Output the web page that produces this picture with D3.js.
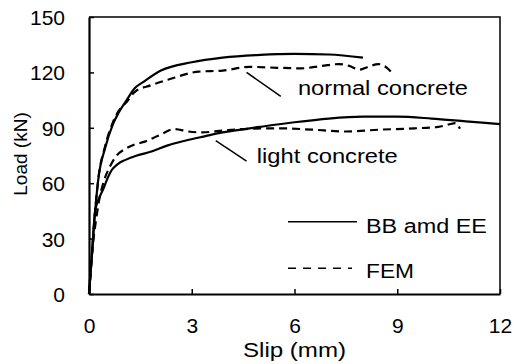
<!DOCTYPE html>
<html>
<head>
<meta charset="utf-8">
<script src="https://cdn.jsdelivr.net/npm/d3@7"></script>
<style>
  body { margin: 0; background: #fff; }
  text { font-family: "Liberation Sans", Arial, sans-serif; fill: #000; }
</style>
</head>
<body>
<div id="chart"></div>
<script>
// slip (mm) / load (kN)
const normalBBSlip = [0, 0.08, 0.18, 0.27, 0.47, 0.7, 0.86, 1.1, 1.34, 1.6, 2.1, 3.0, 3.9, 5.0, 6.0, 7.0, 8.0];
const normalBBLoad = [0, 20, 45, 62, 79, 92, 98, 105, 111.5, 115, 121, 125.5, 128, 129.5, 130, 129.7, 128];

const normalFEMSlip = [0, 0.08, 0.18, 0.27, 0.47, 0.7, 0.86, 1.1, 1.34, 1.8, 2.3, 3.2, 3.9, 4.7, 5.5, 6.2, 6.8, 7.3, 7.6, 7.9, 8.15, 8.45, 8.7, 8.9];
const normalFEMLoad = [0, 20, 45, 62, 80, 93, 99, 104, 109.5, 113, 116, 120.4, 121, 123, 122.5, 122.2, 123.5, 124.5, 123.5, 121.5, 123, 124.5, 122.5, 118.5];

const lightBBSlip = [0, 0.08, 0.18, 0.3, 0.42, 0.55, 0.66, 0.85, 1.05, 1.4, 1.8, 2.3, 2.8, 3.4, 3.9, 5.0, 6.0, 7.0, 8.0, 9.0, 10.0, 11.0, 12.0];
const lightBBLoad = [0, 20, 45, 52, 57, 63, 67, 70.5, 72.5, 75, 77, 80.5, 83, 85.5, 87.5, 90.5, 93, 95, 96, 96, 95, 93.5, 92];

const lightFEMSlip = [0, 0.08, 0.22, 0.32, 0.45, 0.61, 0.81, 1.05, 1.34, 1.63, 2.0, 2.5, 2.9, 3.3, 3.9, 4.7, 5.6, 6.5, 7.5, 8.5, 9.5, 10.2, 10.5, 10.7, 10.83];
const lightFEMLoad = [0, 20, 42, 53, 62, 69, 75, 78.5, 81, 82.5, 85.5, 89.3, 88, 87.5, 88.5, 89.5, 89.7, 89, 88, 89, 89.7, 90.5, 91.8, 92.5, 89.5];

const xTicks = [0, 3, 6, 9, 12];
const yTicks = [0, 30, 60, 90, 120, 150];

const width = 519, height = 364;
const margin = { top: 17, right: 19, bottom: 70, left: 89 };
const pw = width - margin.left - margin.right;
const ph = height - margin.top - margin.bottom;

const svg = d3.select('#chart').append('svg')
  .attr('width', width)
  .attr('height', height);

const g = svg.append('g').attr('transform', `translate(${margin.left},${margin.top})`);

const x = d3.scaleLinear().domain([0, 12]).range([0, pw]);
const y = d3.scaleLinear().domain([0, 150]).range([ph, 0]);

// frame (top + right thin)
g.append('path')
  .attr('d', `M0,0H${pw}V${ph}`)
  .attr('fill', 'none')
  .attr('stroke', '#000')
  .attr('stroke-width', 1.5);

// axes with inward ticks
const xAxis = g.append('g')
  .attr('transform', `translate(0,${ph})`)
  .call(d3.axisBottom(x).tickValues(xTicks).tickSize(-5).tickPadding(39).tickSizeOuter(0));
const yAxis = g.append('g')
  .call(d3.axisLeft(y).tickValues(yTicks).tickSize(-5).tickPadding(24).tickSizeOuter(0));

[xAxis, yAxis].forEach(a => {
  a.select('.domain').attr('stroke', '#000').attr('stroke-width', 2.2);
  a.selectAll('.tick line').attr('stroke', '#000').attr('stroke-width', 1.5);
  a.selectAll('.tick text')
    .style('font-family', '"Liberation Sans", Arial, sans-serif')
    .style('font-size', '21px')
    .attr('fill', '#000');
});
yAxis.selectAll('.tick text').attr('dy', '0.36em');
xAxis.selectAll('.tick text').attr('dy', '0');

// curves
const line = d3.line()
  .x(d => x(d[0]))
  .y(d => y(d[1]))
  .curve(d3.curveMonotoneX);

const series = [
  { slip: normalBBSlip, load: normalBBLoad, dash: null },
  { slip: normalFEMSlip, load: normalFEMLoad, dash: '8,5' },
  { slip: lightBBSlip, load: lightBBLoad, dash: null },
  { slip: lightFEMSlip, load: lightFEMLoad, dash: '8,5' }
];

series.forEach(s => {
  g.append('path')
    .datum(d3.zip(s.slip, s.load))
    .attr('d', line)
    .attr('fill', 'none')
    .attr('stroke', '#000')
    .attr('stroke-width', 2.2)
    .attr('stroke-dasharray', s.dash);
});

// annotations with leader lines
const notes = [
  { text: 'normal concrete', lx1: 4.6, ly1: 120, lx2: 5.6, ly2: 107, tx: 6.1, ty: 107.5, len: 170 },
  { text: 'light concrete', lx1: 3.7, ly1: 83, lx2: 4.6, ly2: 72, tx: 4.9, ty: 71, len: 141 }
];
notes.forEach(n => {
  g.append('line')
    .attr('x1', x(n.lx1)).attr('y1', y(n.ly1))
    .attr('x2', x(n.lx2)).attr('y2', y(n.ly2))
    .attr('stroke', '#000').attr('stroke-width', 1.5);
  g.append('text')
    .attr('x', x(n.tx)).attr('y', y(n.ty))
    .attr('textLength', n.len)
    .attr('lengthAdjust', 'spacingAndGlyphs')
    .style('font-size', '20px')
    .text(n.text);
});

// legend
const legend = [
  { label: 'BB amd EE', dash: null, ly: 221.7, ty: 232.5, x2: 357, len: 121 },
  { label: 'FEM', dash: '8,7', ly: 268.3, ty: 277.5, x2: 352, len: 48 }
];
legend.forEach(l => {
  svg.append('line')
    .attr('x1', 288).attr('x2', l.x2)
    .attr('y1', l.ly).attr('y2', l.ly)
    .attr('stroke', '#000').attr('stroke-width', 1.5)
    .attr('stroke-dasharray', l.dash);
  svg.append('text')
    .attr('x', 366).attr('y', l.ty)
    .attr('textLength', l.len)
    .attr('lengthAdjust', 'spacingAndGlyphs')
    .style('font-size', '20px')
    .text(l.label);
});

// axis titles
svg.append('text')
  .attr('x', margin.left + x(6)).attr('y', 357)
  .attr('text-anchor', 'middle')
  .attr('textLength', 103)
  .attr('lengthAdjust', 'spacingAndGlyphs')
  .style('font-size', '20px')
  .text('Slip (mm)');

svg.append('text')
  .attr('transform', 'translate(27,154) rotate(-90)')
  .attr('text-anchor', 'middle')
  .style('font-size', '19px')
  .text('Load (kN)');
</script>
</body>
</html>
